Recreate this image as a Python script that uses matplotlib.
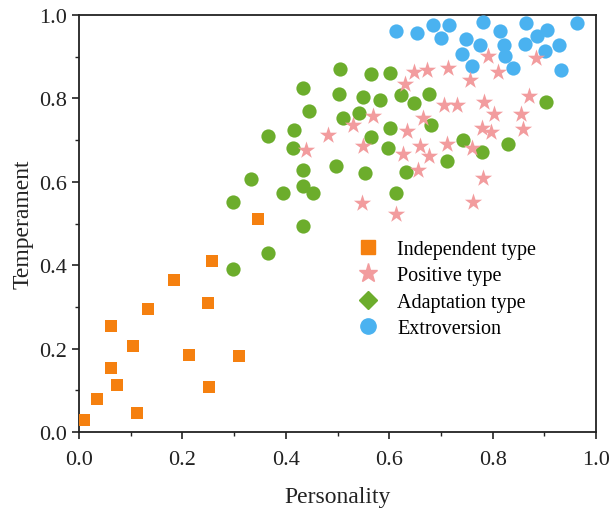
import numpy as np
import matplotlib
matplotlib.use('Agg')
import matplotlib.pyplot as plt
from matplotlib.lines import Line2D
from matplotlib.ticker import MultipleLocator

plt.rcParams['font.family'] = ['Liberation Serif', 'DejaVu Serif']

# Independent type (squares)
ind_x = [0.010, 0.034, 0.062, 0.062, 0.074, 0.104, 0.113, 0.134, 0.184, 0.213,
         0.250, 0.251, 0.257, 0.309, 0.347]
ind_y = [0.028, 0.078, 0.254, 0.154, 0.113, 0.206, 0.046, 0.294, 0.364, 0.184,
         0.310, 0.109, 0.409, 0.182, 0.510]

# Adaptation type (green)
ada_x = [0.297, 0.297, 0.365, 0.434, 0.332, 0.366, 0.505, 0.564, 0.602, 0.434,
         0.503, 0.549, 0.582, 0.622, 0.677, 0.648, 0.445, 0.542, 0.511, 0.416,
         0.602, 0.680, 0.564, 0.414, 0.598, 0.743, 0.434, 0.498, 0.554, 0.632,
         0.712, 0.395, 0.434, 0.453, 0.614, 0.903, 0.829, 0.779]
ada_y = [0.552, 0.390, 0.429, 0.493, 0.606, 0.711, 0.870, 0.858, 0.862, 0.824,
         0.810, 0.804, 0.796, 0.807, 0.810, 0.788, 0.770, 0.766, 0.752, 0.724,
         0.730, 0.736, 0.708, 0.682, 0.682, 0.700, 0.628, 0.638, 0.622, 0.624,
         0.650, 0.574, 0.590, 0.574, 0.572, 0.791, 0.690, 0.671]

# Extroversion (blue)
ext_x = [0.781, 0.864, 0.963, 0.814, 0.906, 0.885, 0.749, 0.776, 0.822, 0.863,
         0.929, 0.740, 0.824, 0.901, 0.761, 0.840, 0.932, 0.613, 0.654, 0.684,
         0.716, 0.700]
ext_y = [0.984, 0.982, 0.980, 0.962, 0.964, 0.950, 0.943, 0.927, 0.927, 0.930,
         0.927, 0.906, 0.902, 0.914, 0.878, 0.872, 0.868, 0.962, 0.956, 0.975,
         0.977, 0.946]

# Positive type (stars)
pos_x = [0.792, 0.883, 0.810, 0.756, 0.870, 0.784, 0.803, 0.855, 0.779, 0.797,
         0.859, 0.760, 0.781, 0.763, 0.648, 0.674, 0.714, 0.631, 0.706, 0.732,
         0.569, 0.665, 0.634, 0.660, 0.712, 0.627, 0.676, 0.550, 0.656, 0.529,
         0.481, 0.440, 0.547, 0.614]
pos_y = [0.902, 0.898, 0.863, 0.843, 0.806, 0.791, 0.763, 0.762, 0.730, 0.720,
         0.726, 0.680, 0.610, 0.552, 0.863, 0.868, 0.874, 0.835, 0.783, 0.783,
         0.759, 0.754, 0.723, 0.686, 0.690, 0.666, 0.662, 0.686, 0.628, 0.736,
         0.712, 0.676, 0.548, 0.522]

c_ind = '#F5800F'
c_pos = '#F29C9E'
c_ada = '#6CAD2C'
c_ext = '#4AB2F0'

fig = plt.figure(figsize=(6.11, 5.10), dpi=100)
ax = fig.add_axes([0.1293, 0.151, 0.8462, 0.8176])

ax.scatter(ind_x, ind_y, marker='s', s=80, color=c_ind, linewidths=0, zorder=3)
ax.scatter(ada_x, ada_y, marker='o', s=105, color=c_ada, linewidths=0, zorder=3)
ax.scatter(ext_x, ext_y, marker='o', s=105, color=c_ext, linewidths=0, zorder=3)
ax.scatter(pos_x, pos_y, marker='*', s=170, color=c_pos, linewidths=0, zorder=4)

ax.set_xlim(0, 1)
ax.set_ylim(0, 1)
ax.xaxis.set_major_locator(MultipleLocator(0.2))
ax.xaxis.set_minor_locator(MultipleLocator(0.1))
ax.yaxis.set_major_locator(MultipleLocator(0.2))
ax.yaxis.set_minor_locator(MultipleLocator(0.1))
ax.xaxis.set_major_formatter(matplotlib.ticker.FormatStrFormatter('%.1f'))
ax.yaxis.set_major_formatter(matplotlib.ticker.FormatStrFormatter('%.1f'))
ax.tick_params(which='major', direction='out', length=5, width=1.2, labelsize=16,
               colors='#222222', pad=4)
ax.tick_params(axis='x', which='major', pad=8)
ax.tick_params(which='minor', direction='out', length=3, width=1.0, colors='#222222')
for sp in ax.spines.values():
    sp.set_linewidth(1.3)
    sp.set_color('#222222')

ax.set_xlabel('Personality', fontsize=17, labelpad=12, color='#222222')
ax.set_ylabel('Temperament', fontsize=17, labelpad=4, color='#222222')

handles = [
    Line2D([], [], marker='s', linestyle='none', color=c_ind, markersize=10),
    Line2D([], [], marker='*', linestyle='none', color=c_pos, markersize=14),
    Line2D([], [], marker='D', linestyle='none', color=c_ada, markersize=9),
    Line2D([], [], marker='o', linestyle='none', color=c_ext, markersize=11),
]
labels = ['Independent type', 'Positive type', 'Adaptation type', 'Extroversion']
ax.legend(handles, labels, loc='upper left', bbox_to_anchor=(0.505, 0.48),
          frameon=False, fontsize=14.5, handletextpad=0.45, labelspacing=0.36,
          borderaxespad=0)

fig.savefig('out.png', dpi=100)
